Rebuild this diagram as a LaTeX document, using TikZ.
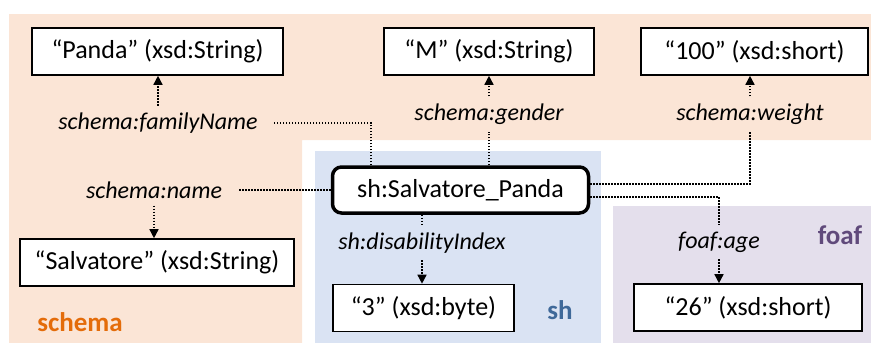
\documentclass[tikz,border=0pt]{standalone}
\usepackage{fontspec}
\setmainfont{Carlito}
\usetikzlibrary{arrows.meta}
\definecolor{peach}{RGB}{251,229,214}
\definecolor{shbg}{RGB}{218,227,243}
\definecolor{foafbg}{RGB}{228,223,236}
\definecolor{schemafg}{RGB}{228,108,10}
\definecolor{shfg}{RGB}{63,105,153}
\definecolor{foaffg}{RGB}{96,74,123}
\begin{document}
\begin{tikzpicture}[x=1pt,y=-1pt,
  lit/.style={draw, line width=1.6pt, fill=white, minimum height=47pt, inner sep=0pt, font=\fontsize{26}{30}\selectfont},
  lab/.style={inner xsep=16pt, inner ysep=7pt, font=\fontsize{24}{28}\selectfont\itshape},
  region/.style={font=\fontsize{27}{30}\selectfont\bfseries},
  dl/.style={line width=1.5pt, dash pattern=on 1.5pt off 1.5pt},
  ar/.style={dl, -{Triangle[length=9pt,width=9pt]}}]
\useasboundingbox (0,0) rectangle (871,343);
% regions
\fill[peach] (9,14) -- (871,14) -- (871,140) -- (302,140) -- (302,343) -- (9,343) -- cycle;
\fill[shbg] (315,151) rectangle (601,343);
\fill[foafbg] (613,206) rectangle (871,343);
% literal boxes
\node[lit, minimum width=251pt] (panda) at (157.5,51.5) {“Panda” (xsd:String)};
\node[lit, minimum width=210pt] (m) at (489,51.5) {“M” (xsd:String)};
\node[lit, minimum width=227pt] (hundred) at (754.5,51.5) {“100” (xsd:short)};
\node[lit, minimum width=274pt] (salv) at (157,262.5) {“Salvatore” (xsd:String)};
\node[lit, minimum width=181pt] (three) at (423.5,308) {“3” (xsd:byte)};
\node[lit, minimum width=228pt] (tsix) at (748,307.5) {“26” (xsd:short)};
\node[lit, minimum width=256pt, minimum height=46pt, line width=3.5pt, rounded corners=9pt] (main) at (460.5,190) {sh:Salvatore\_Panda};
% labels
\node[lab] (lfam) at (158,123) {schema:familyName};
\node[lab] (lgen) at (489,114) {schema:gender};
\node[lab] (lwt) at (750,114) {schema:weight};
\node[lab] (lname) at (154,190) {schema:name};
\node[lab] (ldis) at (422,243) {sh:disabilityIndex};
\node[lab] (lage) at (719,242) {foaf:age};
% region names
\node[region, text=schemafg] (tschema) at (80,322) {schema};
\node[region, text=shfg] (tsh) at (560,310) {sh};
\node[region, text=foaffg] (tfoaf) at (840,235) {foaf};
% connectors
\draw[dl] ([xshift=40pt]main.north west) |- (lfam.east);
\draw[ar] (lfam.north) -- (lfam.north |- panda.south);
\draw[dl] (main.north -| lgen) -- (lgen.south);
\draw[ar] (lgen.north) -- (lgen.north |- m.south);
\draw[dl] ([yshift=6pt]main.east) -| (lwt.south);
\draw[ar] (lwt.north) -- (lwt.north |- hundred.south);
\draw[dl] (main.west) -- (lname.east);
\draw[ar] (lname.south) -- (lname.south |- salv.north);
\draw[dl] (main.south -| ldis) -- (ldis.north);
\draw[ar] (ldis.south) -- (ldis.south |- three.north);
\draw[dl] ([yshift=-7pt]main.east) -| (lage.north);
\draw[ar] (lage.south) -- (lage.south |- tsix.north);
\end{tikzpicture}
\end{document}
